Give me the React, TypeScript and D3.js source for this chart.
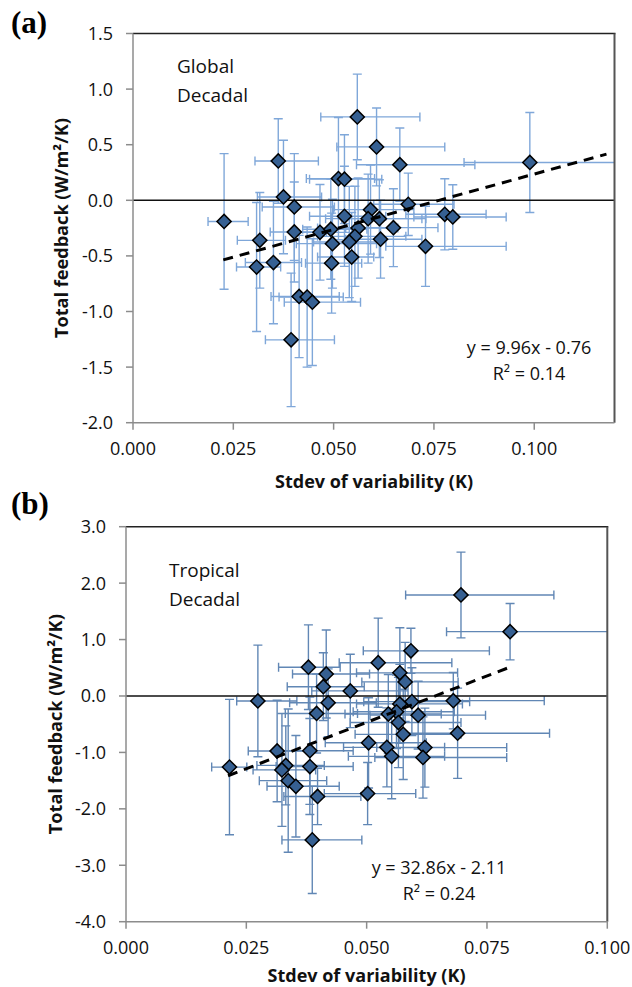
import * as d3 from "d3";
import { useEffect, useRef } from "react";

// (a) global decadal: stdev of variability (K) vs total feedback (W/m2/K)
const globalX = [0.0227, 0.0362, 0.0375, 0.0402, 0.0402, 0.0316, 0.0308, 0.035, 0.0414, 0.0434, 0.0447, 0.0394, 0.0466, 0.0493, 0.0497, 0.0495, 0.0512, 0.0527, 0.0527, 0.0559, 0.0607, 0.0665, 0.0686, 0.0777, 0.0797, 0.0592, 0.0586, 0.0614, 0.0649, 0.0561, 0.0553, 0.0539, 0.0617, 0.0729, 0.0545, 0.0989]
const globalY = [-0.19, 0.354, 0.03, -0.06, -0.285, -0.36, -0.6, -0.56, -0.865, -0.87, -0.916, -1.255, -0.288, -0.26, -0.39, -0.565, 0.195, 0.19, -0.144, 0.75, 0.48, 0.32, -0.036, -0.126, -0.15, -0.084, -0.165, -0.165, -0.246, -0.25, -0.324, -0.375, -0.35, -0.414, -0.51, 0.34]
const globalXMinus = [0.004, 0.0058, 0.0065, 0.008, 0.006, 0.0056, 0.005, 0.007, 0.007, 0.007, 0.007, 0.0064, 0.007, 0.007, 0.009, 0.0065, 0.008, 0.0087, 0.0087, 0.0091, 0.0099, 0.0108, 0.0086, 0.0097, 0.0097, 0.0092, 0.0106, 0.0094, 0.0119, 0.0101, 0.0093, 0.0089, 0.0087, 0.0099, 0.0085, 0.0164]
const globalXPlus = [0.006, 0.01, 0.0095, 0.01, 0.008, 0.0064, 0.006, 0.007, 0.01, 0.009, 0.012, 0.0108, 0.009, 0.009, 0.011, 0.0075, 0.009, 0.0093, 0.0103, 0.0156, 0.017, 0.0187, 0.0114, 0.0103, 0.0133, 0.0108, 0.0134, 0.0116, 0.0111, 0.0099, 0.0127, 0.0091, 0.0103, 0.0201, 0.0055, 0.03]
const globalYErr = [0.61, 0.38, 0.51, 0.48, 0.45, 0.43, 0.58, 0.55, 0.55, 0.63, 0.57, 0.6, 0.43, 0.45, 0.4, 0.45, 0.55, 0.4, 0.45, 0.385, 0.35, 0.33, 0.28, 0.32, 0.29, 0.4, 0.4, 0.35, 0.35, 0.45, 0.45, 0.5, 0.35, 0.36, 0.4, 0.45]

// (b) tropical decadal
const tropicalX = [0.0215, 0.0274, 0.0379, 0.0416, 0.041, 0.042, 0.0396, 0.0466, 0.0524, 0.0314, 0.0382, 0.0332, 0.0324, 0.0382, 0.0337, 0.0353, 0.0398, 0.0387, 0.0504, 0.0502, 0.0696, 0.0798, 0.0592, 0.0569, 0.058, 0.0594, 0.068, 0.0569, 0.0562, 0.0545, 0.0566, 0.0607, 0.0576, 0.0689, 0.0621, 0.0617, 0.0542, 0.0552]
const tropicalY = [-1.26, -0.088, 0.51, 0.39, 0.165, -0.12, -0.31, 0.09, 0.59, -0.975, -0.97, -1.23, -1.31, -1.25, -1.5, -1.6, -1.78, -2.55, -0.83, -1.73, 1.79, 1.14, 0.8, 0.41, 0.25, -0.1, -0.083, -0.14, -0.28, -0.32, -0.47, -0.34, -0.68, -0.66, -0.915, -1.09, -0.91, -1.07]
const tropicalXMinus = [0.0037, 0.0044, 0.0062, 0.007, 0.0075, 0.008, 0.0065, 0.008, 0.0081, 0.006, 0.007, 0.006, 0.006, 0.007, 0.006, 0.006, 0.007, 0.0063, 0.009, 0.009, 0.0115, 0.0132, 0.0099, 0.009, 0.009, 0.01, 0.011, 0.009, 0.009, 0.009, 0.01, 0.01, 0.01, 0.011, 0.01, 0.01, 0.009, 0.009]
const tropicalXPlus = [0.0036, 0.0081, 0.0066, 0.009, 0.0085, 0.01, 0.0085, 0.012, 0.0153, 0.007, 0.009, 0.008, 0.007, 0.009, 0.008, 0.009, 0.009, 0.0103, 0.012, 0.01, 0.0193, 0.03, 0.0163, 0.012, 0.011, 0.012, 0.0189, 0.013, 0.012, 0.011, 0.013, 0.014, 0.012, 0.0191, 0.017, 0.0174, 0.012, 0.011]
const tropicalYErr = [1.2, 0.99, 0.75, 0.78, 0.6, 0.6, 0.7, 0.65, 0.79, 0.9, 0.95, 0.7, 1.0, 0.85, 1.27, 0.9, 0.5, 0.95, 0.8, 0.55, 0.76, 0.5, 0.4, 0.8, 0.7, 0.6, 0.5, 0.7, 0.65, 0.7, 0.8, 0.6, 0.8, 0.8, 0.7, 0.72, 0.7, 0.75]

const globalXTicks = [0, 0.025, 0.05, 0.075, 0.1]
const globalYTicks = [-2, -1.5, -1, -0.5, 0, 0.5, 1, 1.5]
const tropicalXTicks = [0, 0.025, 0.05, 0.075, 0.1]
const tropicalYTicks = [-4, -3, -2, -1, 0, 1, 2, 3]

// trend lines: [slope, intercept, xStart, xEnd]
const globalTrend = [9.96, -0.76, 0.0225, 0.118]
const tropicalTrend = [32.86, -2.11, 0.0212, 0.0798]

const panels = [
  {
    label: "(a)", region: ["Global", "Decadal"], eq: ["y = 9.96x - 0.76", "R² = 0.14"],
    xs: globalX, ys: globalY, xm: globalXMinus, xp: globalXPlus, ye: globalYErr,
    xTicks: globalXTicks, yTicks: globalYTicks, xDigits: 3, yDigits: 1, trend: globalTrend,
    xDomain: [0, 0.12], yDomain: [-2, 1.5],
    left: 133, right: 614.5, top: 33.5, bottom: 422.7,
    errColor: "#7fa7d9", labelY: 33, regionX: 177, regionY: 73, eqX: 529, eqY: 354,
    xTitleX: 374, xTitleY: 488, yTitleX: 68,
  },
  {
    label: "(b)", region: ["Tropical", "Decadal"], eq: ["y = 32.86x - 2.11", "R² = 0.24"],
    xs: tropicalX, ys: tropicalY, xm: tropicalXMinus, xp: tropicalXPlus, ye: tropicalYErr,
    xTicks: tropicalXTicks, yTicks: tropicalYTicks, xDigits: 3, yDigits: 1, trend: tropicalTrend,
    xDomain: [0, 0.1], yDomain: [-4, 3],
    left: 126, right: 607.3, top: 526.7, bottom: 921.7,
    errColor: "#6187b5", labelY: 514, regionX: 169, regionY: 577, eqX: 439, eqY: 874,
    xTitleX: 366.5, xTitleY: 982, yTitleX: 62,
  },
]

const font = "'Open Sans', 'Noto Sans', sans-serif"

export default function App() {
  const svgRef = useRef<SVGSVGElement>(null)

  useEffect(() => {
    const svg = d3.select(svgRef.current)
    svg.selectAll("*").remove()

    panels.forEach((p, pi) => {
      const x = d3.scaleLinear(p.xDomain, [p.left, p.right])
      const y = d3.scaleLinear(p.yDomain, [p.bottom, p.top])
      const g = svg.append("g")

      g.append("clipPath").attr("id", `clip${pi}`)
        .append("rect").attr("x", p.left).attr("y", p.top)
        .attr("width", p.right - p.left).attr("height", p.bottom - p.top)

      const pts = p.xs.map((v, i) => ({ x: v, y: p.ys[i], xm: p.xm[i], xp: p.xp[i], ye: p.ye[i] }))
      const cap = 4.5

      // error bars
      g.append("g").attr("clip-path", `url(#clip${pi})`)
        .selectAll("path").data(pts).join("path")
        .attr("fill", "none").attr("stroke", p.errColor).attr("stroke-width", 1.4)
        .attr("d", d => {
          const cx = x(d.x), cy = y(d.y)
          const x0 = x(d.x - d.xm), x1 = x(d.x + d.xp)
          const y0 = y(d.y - d.ye), y1 = y(d.y + d.ye)
          return `M${x0},${cy}H${x1}M${x0},${cy - cap}V${cy + cap}M${x1},${cy - cap}V${cy + cap}` +
            `M${cx},${y0}V${y1}M${cx - cap},${y0}H${cx + cap}M${cx - cap},${y1}H${cx + cap}`
        })

      // zero line
      g.append("line").attr("x1", p.left).attr("x2", p.right).attr("y1", y(0)).attr("y2", y(0))
        .attr("stroke", "#111").attr("stroke-width", 1.6)

      // frame: top + right dark, left + bottom grey axes
      g.append("line").attr("x1", p.left).attr("x2", p.right + 1).attr("y1", p.top).attr("y2", p.top)
        .attr("stroke", "#222").attr("stroke-width", 1.5)
      g.append("line").attr("x1", p.right).attr("x2", p.right).attr("y1", p.top).attr("y2", p.bottom)
        .attr("stroke", "#555").attr("stroke-width", 2)
      g.append("line").attr("x1", p.left).attr("x2", p.left).attr("y1", p.top).attr("y2", p.bottom)
        .attr("stroke", "#8c8c8c").attr("stroke-width", 1.5)
      g.append("line").attr("x1", p.left).attr("x2", p.right).attr("y1", p.bottom).attr("y2", p.bottom)
        .attr("stroke", "#8c8c8c").attr("stroke-width", 1.5)

      // ticks
      g.selectAll(".yt").data(p.yTicks).join("line")
        .attr("x1", p.left - 7).attr("x2", p.left).attr("y1", d => y(d)).attr("y2", d => y(d))
        .attr("stroke", "#8c8c8c").attr("stroke-width", 1.5)
      g.selectAll(".xt").data(p.xTicks).join("line")
        .attr("x1", d => x(d)).attr("x2", d => x(d)).attr("y1", p.bottom).attr("y2", p.bottom + 7)
        .attr("stroke", "#8c8c8c").attr("stroke-width", 1.5)

      g.selectAll(".yl").data(p.yTicks).join("text")
        .attr("x", p.left - 20).attr("y", d => y(d)).attr("dy", "0.36em")
        .attr("text-anchor", "end").attr("font-family", font).attr("font-size", 18).attr("fill", "#111")
        .text(d => d.toFixed(p.yDigits))
      g.selectAll(".xl").data(p.xTicks).join("text")
        .attr("x", d => x(d)).attr("y", p.bottom + 32)
        .attr("text-anchor", "middle").attr("font-family", font).attr("font-size", 18).attr("fill", "#111")
        .text(d => d.toFixed(p.xDigits))

      // markers
      g.selectAll(".pt").data(pts).join("path")
        .attr("d", d3.symbol(d3.symbolSquare, 100))
        .attr("transform", d => `translate(${x(d.x)},${y(d.y)}) rotate(45)`)
        .attr("fill", "#366092").attr("stroke", "#000").attr("stroke-width", 1.5)

      // trend line
      const [slope, icpt, t0, t1] = p.trend
      g.append("path")
        .datum([t0, t1])
        .attr("d", d3.line<number>().x(d => x(d)).y(d => y(slope * d + icpt)))
        .attr("fill", "none").attr("stroke", "#000").attr("stroke-width", 3)
        .attr("stroke-dasharray", "10,7")

      // texts
      g.append("text").attr("x", 11).attr("y", p.labelY)
        .attr("font-family", "'Liberation Serif', 'DejaVu Serif', serif").attr("font-weight", "bold")
        .attr("font-size", 31).attr("fill", "#000").text(p.label)

      p.region.forEach((t, i) => {
        g.append("text").attr("x", p.regionX).attr("y", p.regionY + i * 28.5)
          .attr("font-family", font).attr("font-size", 19).attr("fill", "#111").text(t)
      })
      p.eq.forEach((t, i) => {
        g.append("text").attr("x", p.eqX).attr("y", p.eqY + i * 25.5).attr("text-anchor", "middle")
          .attr("font-family", font).attr("font-size", 18).attr("fill", "#111").text(t)
      })

      g.append("text").attr("x", p.xTitleX).attr("y", p.xTitleY).attr("text-anchor", "middle")
        .attr("font-family", font).attr("font-weight", "bold").attr("font-size", 18)
        .attr("textLength", 198).attr("lengthAdjust", "spacingAndGlyphs")
        .attr("fill", "#111").text("Stdev of variability (K)")

      const cy = (p.top + p.bottom) / 2
      g.append("text").attr("transform", `translate(${p.yTitleX},${cy}) rotate(-90)`)
        .attr("text-anchor", "middle")
        .attr("font-family", font).attr("font-weight", "bold").attr("font-size", 18)
        .attr("textLength", 220).attr("lengthAdjust", "spacingAndGlyphs")
        .attr("fill", "#111").text("Total feedback (W/m²/K)")
    })
  }, [])

  return (
    <svg ref={svgRef} width={632} height={987}
      style={{ position: "absolute", left: 0, top: 0, background: "#fff" }}
      xmlns="http://www.w3.org/2000/svg" />
  )
}
